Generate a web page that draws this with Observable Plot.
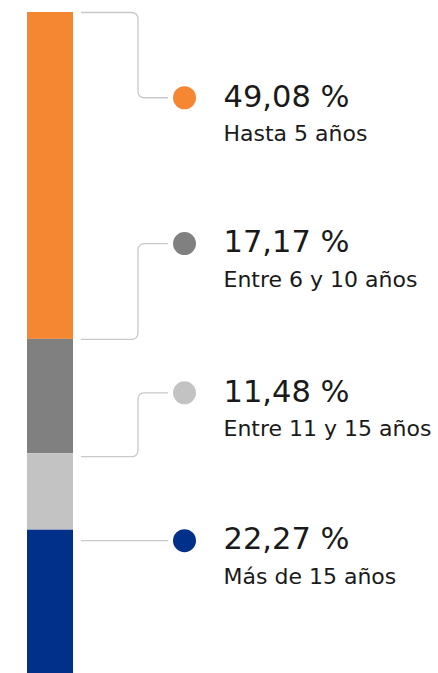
<!DOCTYPE html>
<html>
<head>
<meta charset="utf-8">
<script src="https://cdn.jsdelivr.net/npm/d3@7"></script>
<script src="https://cdn.jsdelivr.net/npm/@observablehq/plot@0.6"></script>
<style>
  html, body { margin: 0; padding: 0; background: #fff; }
  #chart svg { display: block; }
</style>
</head>
<body>
<div id="chart"></div>
<script>
// ---- data ----
const categories = ["Hasta 5 años", "Entre 6 y 10 años", "Entre 11 y 15 años", "Más de 15 años"];
const shares = [49.08, 17.17, 11.48, 22.27];
const valueLabels = ["49,08 %", "17,17 %", "11,48 %", "22,27 %"];
const colors = ["#F58732", "#808080", "#C3C3C3", "#00308A"];
// label anchor positions along the bar scale (percent)
const labelPos = [12.8, 34.7, 57.1, 79.3];
// where each connector leaves the bar (percent)
const connectorStart = [0, 49.08, 66.7, 79.3];

// ---- layout ----
const W = 438, H = 673;
const barX1 = 27, barX2 = 73;
const lineX0 = 81, lineXm = 137.5, lineX1 = 167;
const dotX = 184, textX = 223;

let acc = 0;
const segs = shares.map((v, i) => {
  const s = {cat: categories[i], y1: acc, y2: acc + v, color: colors[i]};
  acc += v;
  return s;
});

const labels = categories.map((c, i) => ({cat: c, value: valueLabels[i], y: labelPos[i], color: colors[i]}));

const connectorPts = [];
connectorStart.forEach((ys, i) => {
  const ye = labelPos[i];
  if (Math.abs(ys - ye) < 0.01) {
    connectorPts.push({k: i, x: lineX0, y: ys}, {k: i, x: lineX1, y: ye});
  } else {
    connectorPts.push({k: i, x: lineX0, y: ys}, {k: i, x: lineXm, y: ys}, {k: i, x: lineXm, y: ye}, {k: i, x: lineX1, y: ye});
  }
});

// rounded-corner polyline curve
function roundedCorners(r) {
  return function(context) {
    let pts = [];
    return {
      areaStart() {}, areaEnd() {},
      lineStart() { pts = []; },
      point(x, y) { pts.push([+x, +y]); },
      lineEnd() {
        if (!pts.length) return;
        context.moveTo(pts[0][0], pts[0][1]);
        for (let i = 1; i < pts.length - 1; i++) {
          context.arcTo(pts[i][0], pts[i][1], pts[i + 1][0], pts[i + 1][1], r);
        }
        const l = pts[pts.length - 1];
        context.lineTo(l[0], l[1]);
      }
    };
  };
}

const font = "'DejaVu Sans', sans-serif";

const chart = Plot.plot({
  width: W,
  height: H,
  margin: 0,
  x: {domain: [0, W], range: [0, W], axis: null},
  y: {domain: [0, 100], range: [12, 678], axis: null},
  style: {fontFamily: font, background: "#fff"},
  marks: [
    Plot.rectY(segs, {x1: barX1, x2: barX2, y1: "y1", y2: "y2", fill: "color"}),
    Plot.line(connectorPts, {x: "x", y: "y", z: "k", stroke: "#C9C9C9", strokeWidth: 1.3, curve: roundedCorners(6)}),
    Plot.dot(labels, {x: dotX, y: "y", r: 11.5, fill: "color", stroke: null}),
    Plot.text(labels, {x: textX, y: "y", text: "value", textAnchor: "start", fontSize: 30.5, fill: "#1a1a1a", dy: -1, lineAnchor: "middle"}),
    Plot.text(labels, {x: textX, y: "y", text: "cat", textAnchor: "start", fontSize: 22, fill: "#1a1a1a", dy: 43, lineAnchor: "bottom"})
  ]
});
document.getElementById("chart").appendChild(chart);
</script>
</body>
</html>
